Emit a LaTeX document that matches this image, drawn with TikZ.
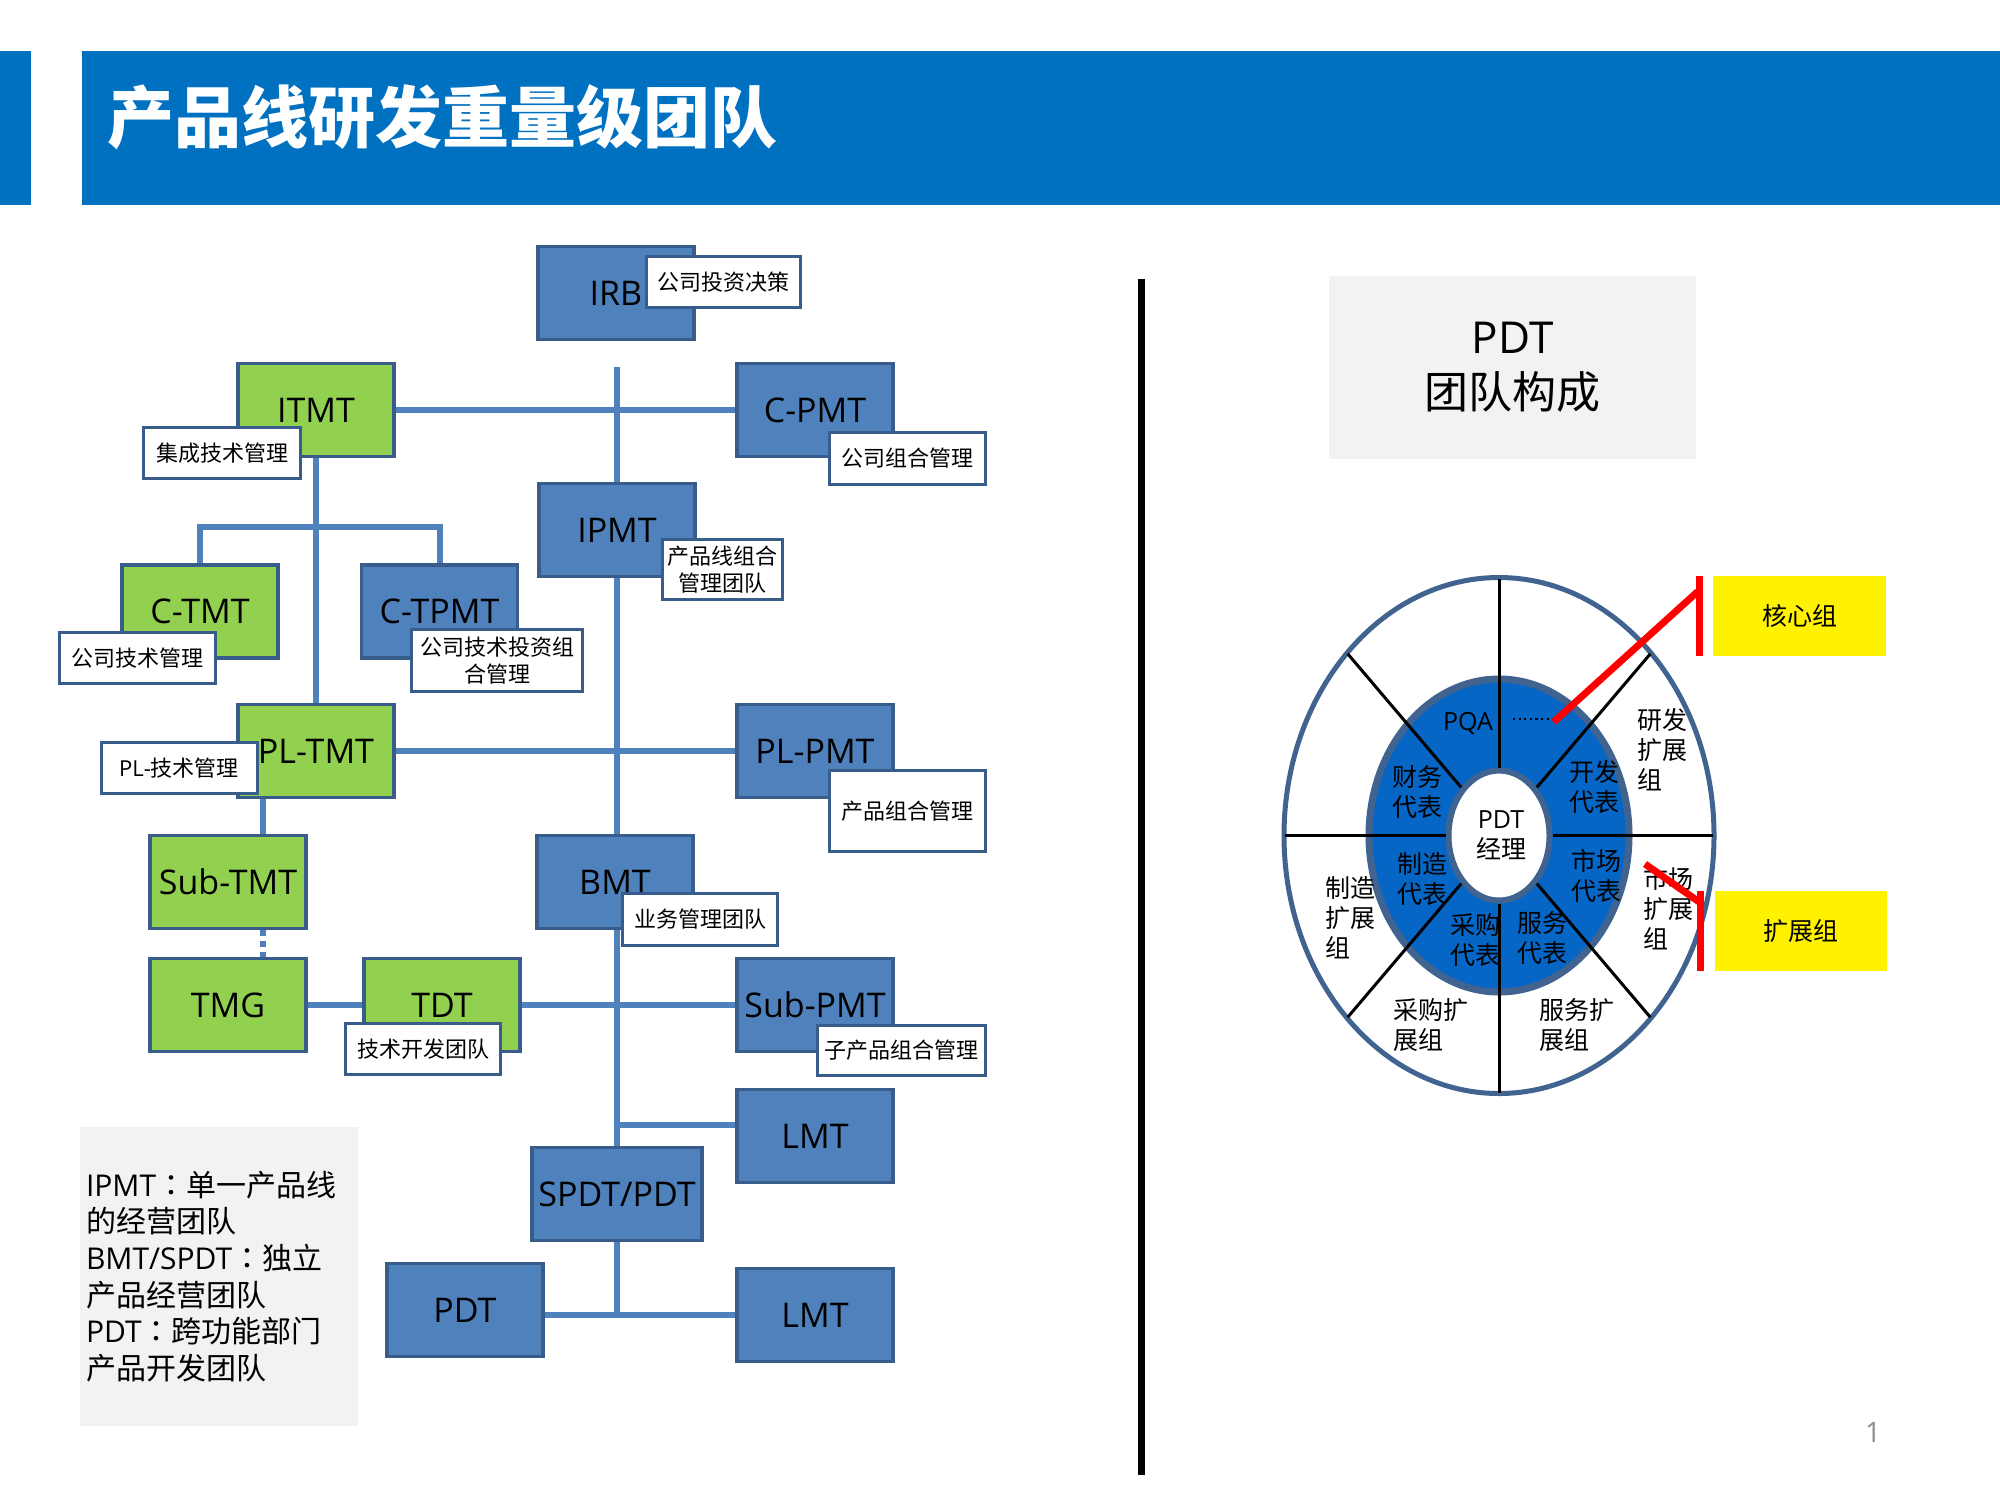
\documentclass[tikz,border=0pt]{standalone}
\usepackage{fontspec}
\setmainfont{Open Sans}
\newfontfamily\zh{Noto Sans CJK SC}
\newfontfamily\zhtc{Noto Sans CJK TC}
\newcommand\fwcolon{{\zhtc ：}}
\usetikzlibrary{calc,backgrounds}

\definecolor{hdrblue}{HTML}{0070C0}
\definecolor{nblue}{HTML}{4F81BD}
\definecolor{nedge}{HTML}{385D8A}
\definecolor{ngreen}{HTML}{92D050}
\definecolor{lgray}{HTML}{F2F2F2}
\definecolor{ringblue}{HTML}{0566C6}
\definecolor{ringedge}{HTML}{40638F}
\definecolor{pgray}{HTML}{8C8C8C}

\tikzset{
  team/.style={draw=nedge, line width=1.75pt, minimum width=78pt, minimum height=46.5pt,
    inner sep=0pt, font=\fontsize{17}{20}\selectfont},
  blueteam/.style={team, fill=nblue},
  greenteam/.style={team, fill=ngreen},
  tag/.style={draw=nedge, line width=1.5pt, fill=white, inner sep=0pt, align=center,
    font=\zh\fontsize{11}{13.4}\selectfont},
  conn/.style={draw=nblue, line width=3pt},
  dashconn/.style={conn, dash pattern=on 3pt off 2.5pt},
  ringtxt/.style={inner sep=0pt, align=center, font=\zh\fontsize{12.5}{15}\selectfont},
  outtxt/.style={ringtxt, align=left, anchor=west},
  spoke/.style={draw=black, line width=1.5pt},
  redmark/.style={draw=red, line width=3.5pt},
}

\begin{document}
\begin{tikzpicture}[x=0.5pt,y=-0.5pt]
\useasboundingbox (0,0) rectangle (2000,1500);

% title bar
\fill[hdrblue] (0,51) rectangle (31,205);
\fill[hdrblue] (82,51) rectangle (2000,205);
\node[anchor=west, inner sep=0pt, text=white, font=\zh\bfseries\fontsize{33.5}{40}\selectfont]
  (title) at (107,117) {产品线研发重量级团队};

% ---------- team hierarchy ----------
\node[blueteam]  (irb)    at (616,293)  {IRB};
\node[greenteam] (itmt)   at (316,410)  {ITMT};
\node[blueteam]  (cpmt)   at (815,410)  {C-PMT};
\node[blueteam]  (ipmt)   at (617,530)  {IPMT};
\node[greenteam] (ctmt)   at (200,611.5) {C-TMT};
\node[blueteam]  (ctpmt)  at (439.5,611.5) {C-TPMT};
\node[greenteam] (pltmt)  at (316,751)  {PL-TMT};
\node[blueteam]  (plpmt)  at (815,751)  {PL-PMT};
\node[greenteam] (subtmt) at (228,882)  {Sub-TMT};
\node[blueteam]  (bmt)    at (615,882)  {BMT};
\node[greenteam] (tmg)    at (228,1005) {TMG};
\node[greenteam] (tdt)    at (442,1005) {TDT};
\node[blueteam]  (subpmt) at (815,1005) {Sub-PMT};
\node[blueteam]  (lmta)   at (815,1136) {LMT};
\node[blueteam, minimum width=85pt] (spdt) at (617,1194) {SPDT/PDT};
\node[blueteam]  (pdt)    at (465,1310) {PDT};
\node[blueteam]  (lmtb)   at (815,1315) {LMT};

% role tags
\node[tag, minimum width=77pt, minimum height=25.5pt] (tirb)    at (723.5,282)  {公司投资决策};
\node[tag, minimum width=78.5pt, minimum height=25.5pt] (titmt) at (222,453)    {集成技术管理};
\node[tag, minimum width=78pt, minimum height=26pt] (tcpmt)     at (907.5,458.5) {公司组合管理};
\node[tag, minimum width=60pt, minimum height=30pt] (tipmt)     at (722.5,569.5) {产品线组合\\管理团队};
\node[tag, minimum width=78pt, minimum height=25.5pt] (tctmt)   at (137.5,658)  {公司技术管理};
\node[tag, minimum width=85.5pt, minimum height=31pt] (tctpmt)  at (497,660.5)  {公司技术投资组\\合管理};
\node[tag, minimum width=78pt, minimum height=25.5pt] (tpltmt)  at (179,768)    {{\rmfamily PL-}技术管理};
\node[tag, minimum width=78pt, minimum height=40.5pt] (tplpmt)  at (907.5,811)  {产品组合管理};
\node[tag, minimum width=77.5pt, minimum height=26pt] (tbmt)    at (700,919.5)  {业务管理团队};
\node[tag, minimum width=77.5pt, minimum height=25.5pt] (ttdt)  at (423,1049)   {技术开发团队};
\node[tag, minimum width=84pt, minimum height=25pt] (tsubpmt)   at (901.5,1050.5) {子产品组合管理};

% connectors
\coordinate (spine) at (617,367);
\begin{pgfonlayer}{background}
  \draw[conn] (spine) -- (ipmt.north);
  \draw[conn] (itmt.east) -- (cpmt.west);
  \draw[conn] (itmt.south) -- (pltmt.north);
  \draw[conn] (ctmt.north) -- ++(0,-36) -| (ctpmt.north);
  \draw[conn] (ipmt.south) -- (ipmt.south |- bmt.north);
  \draw[conn] (pltmt.east) -- (plpmt.west);
  \draw[conn] ([xshift=-26.5pt]pltmt.south) -- ([xshift=-26.5pt]pltmt.south |- subtmt.north);
  \draw[dashconn] ([xshift=-26.5pt]pltmt.south |- subtmt.south) -- ([xshift=-26.5pt]pltmt.south |- tmg.north);
  \draw[conn] (tmg.east) -- (tdt.west);
  \draw[conn] (tdt.east) -- (subpmt.west);
  \draw[conn] (ipmt.south |- bmt.south) -- (spdt.north);
  \draw[conn] ([yshift=5.5pt]lmta.west) -- ([yshift=5.5pt]lmta.west -| spdt.north);
  \draw[conn] (spdt.south) -- (spdt.south |- lmtb.west);
  \draw[conn] (pdt.east |- lmtb.west) -- (lmtb.west);
\end{pgfonlayer}

% legend
\node[fill=lgray, minimum width=139pt, minimum height=149.5pt, text width=133pt,
  inner xsep=3pt, align=left, font=\fontsize{15}{18.35}\selectfont] (legend) at (219,1276.5)
  {IPMT\fwcolon{\zh 单一产品线}\\{\zh 的经营团队}\\BMT/SPDT\fwcolon{\zh 独立}\\{\zh 产品经营团队}\\PDT\fwcolon{\zh 跨功能部门}\\{\zh 产品开发团队}};

% separator
\draw[line width=3.5pt] (1141.5,279) -- (1141.5,1475);

% ---------- PDT team composition ----------
\node[fill=lgray, minimum width=183.5pt, minimum height=91.5pt, align=center,
  font=\fontsize{22}{27.5}\selectfont] (head) at (1512.5,367.5) {PDT\\{\zh 团队构成}};

\coordinate (cc) at (1499,835.5);
\draw[draw=ringedge, line width=2.5pt, fill=white] (cc) ellipse [x radius=107.5pt, y radius=129pt];
\draw[draw=ringedge, line width=3.5pt, fill=ringblue] (cc) ellipse [x radius=65pt, y radius=78.25pt];
\draw[draw=ringedge, line width=3pt, fill=white] (cc) ellipse [x radius=25.25pt, y radius=32.5pt];
\foreach \a in {0,45,...,315}
  \draw[spoke] ($(cc)+(\a:26.75pt and 34pt)$) -- ($(cc)+(\a:107pt and 128.5pt)$);

\node[ringtxt] (pqa) at (1468,724) {\rmfamily PQA};
\draw[line width=1.1pt, dash pattern=on 1.1pt off 1.7pt] (1513,718.6) -- (1550,718.6);
\node[ringtxt] (fin)  at (1417,792)  {财务\\代表};
\node[ringtxt] (dev)  at (1594,786.5) {开发\\代表};
\node[ringtxt] (mfg)  at (1422,879)  {制造\\代表};
\node[ringtxt] (mkt)  at (1596,876)  {市场\\代表};
\node[ringtxt] (buy)  at (1475,940)  {采购\\代表};
\node[ringtxt] (svc)  at (1542,937.5) {服务\\代表};
\node[ringtxt] (mgr)  at (1501,835)  {{\rmfamily PDT}\\经理};

\node[outtxt] (xdev) at (1637,750)  {研发\\扩展\\组};
\node[outtxt] (xmkt) at (1643,909)  {市场\\扩展\\组};
\node[outtxt] (xmfg) at (1325,918)  {制造\\扩展\\组};
\node[outtxt] (xbuy) at (1393,1025) {采购扩\\展组};
\node[outtxt] (xsvc) at (1539,1025) {服务扩\\展组};

% group callouts
\node[fill=yellow, minimum width=86.5pt, minimum height=40pt, inner sep=0pt,
  font=\zh\fontsize{12.5}{15}\selectfont] (core) at (1799.5,616) {核心组};
\node[fill=yellow, minimum width=86pt, minimum height=40pt, inner sep=0pt,
  font=\zh\fontsize{12.5}{15}\selectfont] (ext) at (1801,931) {扩展组};

\coordinate (coretip) at (1553.6,722);
\coordinate (exttip) at (1645,864);
\draw[redmark] ([xshift=-6.5pt]core.north west) -- ([xshift=-6.5pt]core.south west);
\draw[redmark] ([xshift=-7.5pt,yshift=-8pt]core.north west) -- (coretip);
\draw[redmark] ([xshift=-7pt]ext.north west) -- ([xshift=-7pt]ext.south west);
\draw[redmark] ([xshift=-8pt,yshift=-5.5pt]ext.north west) -- (exttip);

% page number
\node[text=pgray, inner sep=0pt, font=\fontsize{14}{16}\selectfont] (pageno) at (1873,1432) {1};
\end{tikzpicture}
\end{document}
